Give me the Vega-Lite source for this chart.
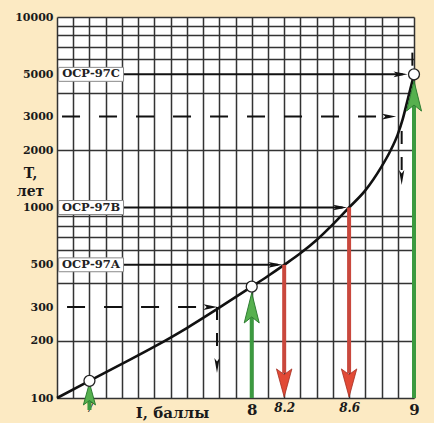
{
  "$schema": "https://vega.github.io/schema/vega-lite/v6.json",
  "width": 357,
  "height": 381,
  "autosize": "none",
  "padding": {"left": 57, "top": 17, "right": 20, "bottom": 25},
  "background": "#FCEAC3",
  "view": {"fill": "#ffffff", "stroke": null},
  "config": {"font": "DejaVu Serif"},
  "encoding": {
    "x": {
      "field": "I", "type": "quantitative",
      "scale": {"domain": [6.8, 9.0], "nice": false, "zero": false},
      "axis": {
        "values": [6.8, 6.9, 7, 7.1, 7.2, 7.3, 7.4, 7.5, 7.6, 7.7, 7.8, 7.9, 8, 8.1, 8.2, 8.3, 8.4, 8.5, 8.6, 8.7, 8.8, 8.9, 9],
        "grid": true, "gridColor": "#333333", "gridWidth": 1.5, "gridOpacity": 1,
        "domain": false, "ticks": false,
        "labelExpr": "datum.value==7?'7':datum.value==8?'8':datum.value==8.2?'8.2':datum.value==8.6?'8.6':datum.value==9?'9':''",
        "labelFont": "DejaVu Serif",
        "labelFontWeight": {"condition": {"test": "datum.value==7", "value": "normal"}, "value": "bold"},
        "labelFontSize": {"condition": {"test": "datum.value==8||datum.value==9", "value": 15}, "value": 12},
        "labelFontStyle": {"condition": {"test": "datum.value==8||datum.value==9", "value": "normal"}, "value": "italic"},
        "labelPadding": 4, "labelColor": "#1a1a1a", "labelBaseline": "top",
        "labelOverlap": false, "labelFlush": false, "labelBound": false,
        "title": "I, баллы", "titleFont": "DejaVu Serif", "titleFontSize": 15, "titleFontWeight": "bold",
        "titleColor": "#1a1a1a", "titleX": 115, "titleY": 19, "titleBaseline": "alphabetic", "titleAlign": "center"
      }
    },
    "y": {
      "field": "T", "type": "quantitative",
      "scale": {"type": "log", "domain": [100, 10000], "nice": false},
      "axis": {
        "values": [100, 200, 300, 400, 500, 600, 700, 800, 900, 1000, 2000, 3000, 4000, 5000, 6000, 7000, 8000, 9000, 10000],
        "grid": true, "gridColor": "#333333", "gridWidth": 1.5,
        "gridOpacity": {"condition": {"test": "indexof([300,500,1000,3000,5000], datum.value) >= 0", "value": 0}, "value": 1},
        "domain": false, "ticks": false,
        "labelExpr": "indexof([100,200,300,500,1000,2000,3000,5000,10000], datum.value) >= 0 ? datum.value + '' : ''",
        "labelFont": "DejaVu Serif", "labelFontWeight": "bold", "labelFontSize": 11, "labelColor": "#1a1a1a",
        "labelPadding": 4, "labelOverlap": false, "labelFlush": false, "labelBound": false,
        "title": ["T,", "лет"], "titleAngle": 0, "titleX": -27, "titleY": 149, "titleAlign": "center",
        "titleBaseline": "top", "titleFont": "DejaVu Serif", "titleFontSize": 14, "titleFontWeight": "bold",
        "titleColor": "#1a1a1a", "titleLineHeight": 18
      }
    }
  },
  "layer": [
    {
      "data": {"values": [{"I": 6.831, "I2": 8.85, "T": 3000}, {"I": 6.862, "I2": 7.75, "T": 300}]},
      "mark": {"type": "rule", "strokeDash": [18, 19], "strokeWidth": 2, "color": "#111111"},
      "encoding": {"x2": {"field": "I2"}}
    },
    {
      "data": {"values": [{"I": 8.924, "T": 2521, "T2": 1574}, {"I": 7.786, "T": 300, "T2": 174}]},
      "mark": {"type": "rule", "strokeDash": [13, 13], "strokeWidth": 2, "color": "#111111"},
      "encoding": {"y2": {"field": "T2"}}
    },
    {
      "data": {"values": [{"I": 8.99, "T": 5550, "T2": 6500}]},
      "mark": {"type": "rule", "strokeWidth": 2, "color": "#111111"},
      "encoding": {"y2": {"field": "T2"}}
    },
    {
      "data": {"values": [{"I": 7.2, "I2": 8.93, "T": 5000}, {"I": 7.2, "I2": 8.56, "T": 1000}, {"I": 7.2, "I2": 8.16, "T": 500}]},
      "mark": {"type": "rule", "strokeWidth": 2, "color": "#111111"},
      "encoding": {"x2": {"field": "I2"}}
    },
    {
      "data": {"values": [
        {"I": 6.8, "T": 100}, {"I": 7.0, "T": 123}, {"I": 7.2, "T": 151}, {"I": 7.4, "T": 186},
        {"I": 7.6, "T": 233}, {"I": 7.8, "T": 298}, {"I": 8.0, "T": 384}, {"I": 8.1, "T": 437},
        {"I": 8.2, "T": 500}, {"I": 8.3, "T": 575}, {"I": 8.4, "T": 675}, {"I": 8.5, "T": 815},
        {"I": 8.6, "T": 1000}, {"I": 8.7, "T": 1230}, {"I": 8.8, "T": 1640}, {"I": 8.85, "T": 1950},
        {"I": 8.9, "T": 2420}, {"I": 8.93, "T": 2900}, {"I": 8.96, "T": 3650}, {"I": 9.0, "T": 5000}
      ]},
      "mark": {"type": "line", "interpolate": "monotone", "strokeWidth": 2.6, "color": "#111111"}
    },
    {
      "data": {"values": [{"I": 8.2, "T": 500, "T2": 135}, {"I": 8.6, "T": 1000, "T2": 135}]},
      "mark": {"type": "rule", "strokeWidth": 4, "color": "#C9483D"},
      "encoding": {"y2": {"field": "T2"}}
    },
    {
      "data": {"values": [{"I": 8.2, "T": 120}, {"I": 8.6, "T": 120}]},
      "mark": {"type": "point", "shape": "M0,1L0.55,-1L0,-0.6L-0.55,-1Z", "size": 784, "filled": true,
               "fill": "#E24A36", "stroke": "#A52E22", "strokeWidth": 0.8, "opacity": 1}
    },
    {
      "data": {"values": [{"I": 7.0, "T": 86.5, "T2": 103}, {"I": 8.0, "T": 100, "T2": 272}, {"I": 9.0, "T": 100, "T2": 3450}]},
      "mark": {"type": "rule", "strokeWidth": 4, "color": "#3C9A40"},
      "encoding": {"y2": {"field": "T2"}}
    },
    {
      "data": {"values": [{"I": 8.0, "T": 297}, {"I": 9.0, "T": 3846}]},
      "mark": {"type": "point", "shape": "M0,-1L0.5,1L0,0.6L-0.5,1Z", "size": 900, "filled": true,
               "fill": "#56B04E", "stroke": "#2E7D32", "strokeWidth": 1, "opacity": 1}
    },
    {
      "data": {"values": [{"I": 7.0, "T": 105}]},
      "mark": {"type": "point", "shape": "M0,-1L0.55,1L0,0.6L-0.55,1Z", "size": 484, "filled": true,
               "fill": "#56B04E", "stroke": "#2E7D32", "strokeWidth": 1, "opacity": 1}
    },
    {
      "data": {"values": [{"I": 7.0, "T": 123}, {"I": 8.0, "T": 384}, {"I": 9.0, "T": 5000}]},
      "mark": {"type": "point", "shape": "circle", "size": 120, "filled": true, "fill": "#ffffff",
               "stroke": "#222222", "strokeWidth": 1.3, "opacity": 1}
    },
    {
      "data": {"values": [
        {"I": 6.81, "I2": 7.21, "T": 4595, "T2": 5440},
        {"I": 6.81, "I2": 7.21, "T": 919, "T2": 1088},
        {"I": 6.81, "I2": 7.21, "T": 460, "T2": 544}
      ]},
      "mark": {"type": "rect", "fill": "#ffffff", "stroke": "#8a8a8a", "strokeWidth": 1},
      "encoding": {"x2": {"field": "I2"}, "y2": {"field": "T2"}}
    },
    {
      "data": {"values": [
        {"I": 7.01, "T": 5000, "label": "ОСР-97С"},
        {"I": 7.01, "T": 1000, "label": "ОСР-97В"},
        {"I": 7.01, "T": 500, "label": "ОСР-97А"}
      ]},
      "mark": {"type": "text", "font": "DejaVu Serif", "fontWeight": "bold", "fontSize": 11.5,
               "baseline": "middle", "align": "center", "color": "#222222"},
      "encoding": {"text": {"field": "label"}}
    },
    {
      "data": {"values": [{"I": 8.917, "T": 5000}, {"I": 8.545, "T": 1000}, {"I": 8.146, "T": 500}, {"I": 8.847, "T": 3000}, {"I": 7.746, "T": 300}]},
      "mark": {"type": "point", "shape": "M1,0L-1,0.4L-0.55,0L-1,-0.4Z", "size": 196, "filled": true,
               "fill": "#111111", "opacity": 1}
    },
    {
      "data": {"values": [{"I": 8.924, "T": 1436}, {"I": 7.786, "T": 148}]},
      "mark": {"type": "point", "shape": "M0,1L0.35,-1L0,-0.55L-0.35,-1Z", "size": 225, "filled": true,
               "fill": "#111111", "opacity": 1}
    }
  ]
}
